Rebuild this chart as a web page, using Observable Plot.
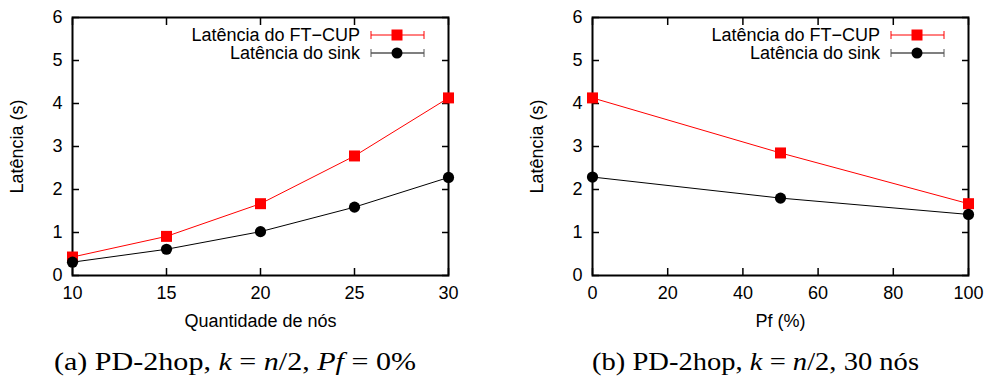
<!DOCTYPE html>
<html><head><meta charset="utf-8">
<script src="https://cdn.jsdelivr.net/npm/d3@7"></script>
<script src="https://cdn.jsdelivr.net/npm/@observablehq/plot@0.6"></script>
<style>
body{margin:0;background:#fff;}
#wrap{position:relative;width:987px;height:377px;overflow:hidden;font-family:"Liberation Sans",Arial,sans-serif;background:#fff;}
.panel{position:absolute;top:0;}
.leg{position:absolute;font-size:18px;line-height:16px;white-space:nowrap;color:#000;}
.cap{position:absolute;left:0;top:0;}
</style></head><body><div id="wrap"></div>
<script>
// ---- data ----
const seriesNames = ["Latência do FT\u2212CUP", "Latência do sink"];
const nodes = [10, 15, 20, 25, 30];
const ftcupByNodes = [0.43, 0.91, 1.67, 2.78, 4.13];
const sinkByNodes = [0.31, 0.61, 1.02, 1.59, 2.28];
const pf = [0, 50, 100];
const ftcupByPf = [4.13, 2.85, 1.67];
const sinkByPf = [2.29, 1.80, 1.42];
const yTicks = [0, 1, 2, 3, 4, 5, 6];
const xTicksA = [10, 15, 20, 25, 30];
const xTicksB = [0, 20, 40, 60, 80, 100];
const xLabelA = "Quantidade de nós";
const xLabelB = "Pf (%)";
const yLabel = "Latência (s)";
const captionA = [["(a) PD-2hop, ", false], ["k", true], [" = ", false], ["n", true], ["/2, ", false], ["Pf", true], [" = 0%", false]];
const captionB = [["(b) PD-2hop, ", false], ["k", true], [" = ", false], ["n", true], ["/2, 30 nós", false]];

const RED = "#ff0000";
const wrap = document.getElementById("wrap");

function panel({xs, a, b, xDomain, xTicks, xLabel, width, marginRight}) {
  const rows = xs.map((x, i) => ({x, ft: a[i], sink: b[i]}));
  return Plot.plot({
    width, height: 340,
    marginLeft: 72, marginRight, marginTop: 17, marginBottom: 65,
    style: {fontFamily: "'Liberation Sans', Arial, sans-serif", fontSize: "18px", color: "#000", background: "transparent", overflow: "visible"},
    x: {domain: xDomain},
    y: {domain: [0, 6]},
    marks: [
      Plot.axisX(xTicks, {anchor: "bottom", tickSize: -7, tickPadding: 18, strokeWidth: 1.5, label: xLabel, labelAnchor: "center", labelArrow: "none", labelOffset: 51}),
      Plot.axisX(xTicks, {anchor: "top", tickSize: -7, strokeWidth: 1.5, text: null, label: null}),
      Plot.axisY(yTicks, {anchor: "left", tickSize: -7, tickPadding: 17, strokeWidth: 1.5, label: yLabel, labelAnchor: "center", labelArrow: "none", labelOffset: 62}),
      Plot.axisY(yTicks, {anchor: "right", tickSize: -7, strokeWidth: 1.5, text: null, label: null}),
      Plot.frame({stroke: "#000", strokeWidth: 2}),
      Plot.line(rows, {x: "x", y: "ft", stroke: RED, strokeWidth: 1}),
      Plot.line(rows, {x: "x", y: "sink", stroke: "#000", strokeWidth: 1}),
      Plot.dot(rows, {x: "x", y: "ft", symbol: "square", r: 6.2, fill: RED}),
      Plot.dot(rows, {x: "x", y: "sink", symbol: "circle", r: 5.6, fill: "#000"})
    ]
  });
}

function legend(frameRight) {
  const specs = [{color: RED, line: RED, sym: "square"}, {color: "#000", line: "#555", sym: "circle"}];
  seriesNames.forEach((name, i) => {
    const cy = 35 + i * 18;
    const t = document.createElement("div");
    t.className = "leg";
    t.textContent = name;
    t.style.right = (987 - (frameRight - 88)) + "px";
    t.style.top = (cy - 8) + "px";
    wrap.appendChild(t);
    const s = specs[i];
    const svg = d3.create("svg").attr("width", 60).attr("height", 16)
      .style("position", "absolute").style("left", (frameRight - 78) + "px").style("top", (cy - 8) + "px");
    svg.append("line").attr("x1", 1).attr("x2", 54).attr("y1", 8).attr("y2", 8).attr("stroke", s.line).attr("stroke-width", i ? 1.5 : 1);
    svg.append("line").attr("x1", 1).attr("x2", 1).attr("y1", 4).attr("y2", 12).attr("stroke", s.line).attr("stroke-width", 1);
    svg.append("line").attr("x1", 54).attr("x2", 54).attr("y1", 4).attr("y2", 12).attr("stroke", s.line).attr("stroke-width", 1);
    if (s.sym === "square") svg.append("rect").attr("x", 21.5).attr("y", 2.5).attr("width", 11).attr("height", 11).attr("fill", s.color);
    else svg.append("circle").attr("cx", 27).attr("cy", 8).attr("r", 5.5).attr("fill", s.color);
    wrap.appendChild(svg.node());
  });
}

function caption(parts, x, w) {
  const svg = d3.create("svg").attr("class", "cap").attr("width", 987).attr("height", 377)
    .style("position", "absolute").style("pointer-events", "none");
  const t = svg.append("text").attr("x", x).attr("y", 370).attr("font-family", "'Liberation Serif', 'Times New Roman', serif")
    .attr("font-size", 26).attr("textLength", w).attr("lengthAdjust", "spacingAndGlyphs");
  parts.forEach(([s, it]) => t.append("tspan").attr("font-style", it ? "italic" : "normal").text(s));
  wrap.appendChild(svg.node());
}

const pA = panel({xs: nodes, a: ftcupByNodes, b: sinkByNodes, xDomain: [10, 30], xTicks: xTicksA, xLabel: xLabelA, width: 490, marginRight: 42});
pA.classList.add("panel"); pA.style.left = "0px";
wrap.appendChild(pA);
const pB = panel({xs: pf, a: ftcupByPf, b: sinkByPf, xDomain: [0, 100], xTicks: xTicksB, xLabel: xLabelB, width: 467, marginRight: 19});
pB.classList.add("panel"); pB.style.left = "520px";
wrap.appendChild(pB);
legend(448);
legend(968);
caption(captionA, 54, 362);
caption(captionB, 592, 327);
</script></body></html>
